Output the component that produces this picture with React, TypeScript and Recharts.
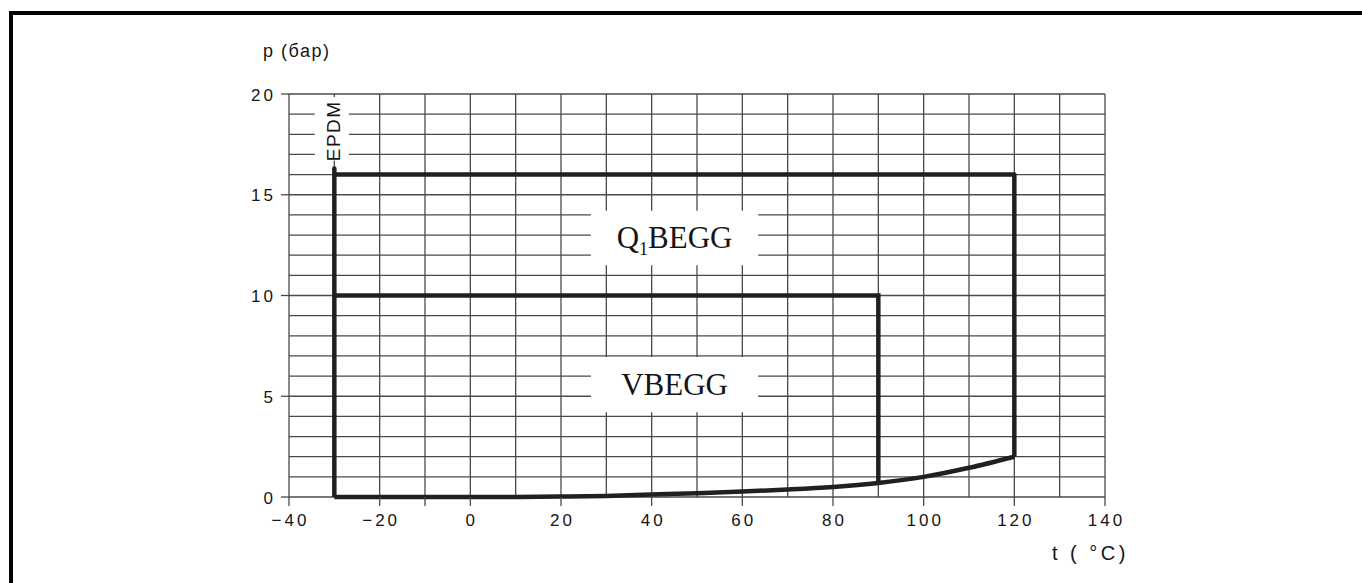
import React from "react";
import { LineChart, Line, XAxis, YAxis, CartesianGrid, ReferenceArea } from "recharts";

// axis ticks (grid every 10 °C and 1 bar, labels on the majors)
const xTicks = [-40, -30, -20, -10, 0, 10, 20, 30, 40, 50, 60, 70, 80, 90, 100, 110, 120, 130, 140];
const xLabeled = [-40, -20, 0, 20, 40, 60, 80, 100, 120, 140];
const xMarked = [-40, -20, -10, 0, 20, 40, 60, 80, 100, 120, 140];
const yTicks = [0, 1, 2, 3, 4, 5, 6, 7, 8, 9, 10, 11, 12, 13, 14, 15, 16, 17, 18, 19, 20];
const yLabeled = [0, 5, 10, 15, 20];

// lower boundary curve (steam pressure line)
const curveTemps = [-30, -20, -10, 0, 10, 20, 30, 40, 50, 60, 70, 80, 90, 100, 110, 120];
const curvePressures = [0, 0, 0, 0, 0.005, 0.02, 0.05, 0.12, 0.19, 0.27, 0.37, 0.5, 0.7, 1.0, 1.45, 2.0];

// Q1BEGG outline (EPDM line at -30 runs a little above 16 bar)
const q1Temps = [-30, -30, -30, 120, 120];
const q1Pressures = [0, 16.3, 16, 16, 2];

// VBEGG outline
const vTemps = [-30, 90, 90];
const vPressures = [10, 10, 0.7];

const curveData = curveTemps.map((t, i) => ({ t, p: curvePressures[i] }));
const q1Data = q1Temps.map((t, i) => ({ t, p: q1Pressures[i] }));
const vData = vTemps.map((t, i) => ({ t, p: vPressures[i] }));

const INK = "#231f20";
const GRID = "#4a4a4a";
const TEXT = "#151515";
const SANS = "'Liberation Sans', Arial, sans-serif";
const SERIF = "'Liberation Serif', 'Times New Roman', serif";

const XTick = (props: any) => {
  const { x, y, payload } = props;
  const v = payload.value;
  return (
    <g>
      {xMarked.includes(v) && <line x1={x} x2={x} y1={y} y2={y + 9} stroke={GRID} strokeWidth={1.3} />}
      {xLabeled.includes(v) && (
        <text x={x + 1.5} y={y + 29} textAnchor="middle" fontFamily={SANS} fontSize={17} letterSpacing={3} fill={TEXT}>
          {v < 0 ? `\u2212${Math.abs(v)}` : v}
        </text>
      )}
    </g>
  );
};

const YTick = (props: any) => {
  const { x, y, payload } = props;
  const v = payload.value;
  if (!yLabeled.includes(v)) return null;
  return (
    <g>
      <line x1={x - 8} x2={x} y1={y} y2={y} stroke={GRID} strokeWidth={1.3} />
      <text x={x - 13} y={y + 6.5} textAnchor="end" fontFamily={SANS} fontSize={17} letterSpacing={3} fill={TEXT}>
        {v}
      </text>
    </g>
  );
};

const Q1Label = (props: any) => {
  const { x, y, width, height } = props.viewBox;
  return (
    <text x={x + width / 2} y={y + height / 2 + 10} textAnchor="middle" fontFamily={SERIF} fontSize={31} fill={TEXT}>
      Q<tspan fontSize={18} dy={7}>1</tspan>
      <tspan dy={-7}>BEGG</tspan>
    </text>
  );
};

const VLabel = (props: any) => {
  const { x, y, width, height } = props.viewBox;
  return (
    <text x={x + width / 2} y={y + height / 2 + 10} textAnchor="middle" fontFamily={SERIF} fontSize={31} fill={TEXT}>
      VBEGG
    </text>
  );
};

const EpdmLabel = (props: any) => {
  const { x, y, width, height } = props.viewBox;
  const cx = x + width / 2 + 8;
  const cy = y + height / 2 + 2;
  return (
    <text
      x={cx}
      y={cy}
      textAnchor="middle"
      fontFamily={SANS}
      fontSize={19}
      letterSpacing={1.5}
      fill={TEXT}
      transform={`rotate(-90 ${cx} ${cy})`}
    >
      EPDM
    </text>
  );
};

export default function App() {
  return (
    <div style={{ position: "absolute", left: 0, top: 0, width: 1362, height: 583, background: "#fff", overflow: "hidden" }}>
      <div
        style={{
          position: "absolute",
          left: 9,
          top: 11,
          width: 1362,
          height: 583,
          borderTop: "4px solid #000",
          borderLeft: "4px solid #000",
        }}
      />
      <div style={{ position: "absolute", left: 0, top: 0 }}>
        <LineChart width={1362} height={583} margin={{ top: 94, right: 257, bottom: 56, left: 229 }}>
          <CartesianGrid stroke={GRID} strokeWidth={1.3} strokeDasharray="" />
          <XAxis
            dataKey="t"
            type="number"
            domain={[-40, 140]}
            ticks={xTicks}
            interval={0}
            tick={<XTick />}
            tickLine={false}
            axisLine={false}
            tickSize={0}
            tickMargin={0}
            height={30}
          />
          <YAxis
            dataKey="p"
            type="number"
            domain={[0, 20]}
            ticks={yTicks}
            interval={0}
            tick={<YTick />}
            tickLine={false}
            axisLine={false}
            tickSize={0}
            tickMargin={0}
            width={60}
          />
          <ReferenceArea x1={26.6} x2={63.5} y1={11.5} y2={14.2} fill="#fff" fillOpacity={1} stroke="none" label={<Q1Label />} />
          <ReferenceArea x1={26.6} x2={63.5} y1={4.2} y2={6.95} fill="#fff" fillOpacity={1} stroke="none" label={<VLabel />} />
          <ReferenceArea x1={-34.3} x2={-26.8} y1={16.7} y2={19.85} fill="#fff" fillOpacity={1} stroke="none" label={<EpdmLabel />} />
          <Line data={curveData} dataKey="p" type="monotone" stroke={INK} strokeWidth={4.5} dot={false} activeDot={false} isAnimationActive={false} />
          <Line data={q1Data} dataKey="p" type="linear" stroke={INK} strokeWidth={4.5} strokeLinejoin="round" dot={false} activeDot={false} isAnimationActive={false} />
          <Line data={vData} dataKey="p" type="linear" stroke={INK} strokeWidth={4.5} dot={false} activeDot={false} isAnimationActive={false} />
        </LineChart>
      </div>
      <svg width={1362} height={583} style={{ position: "absolute", left: 0, top: 0, pointerEvents: "none" }}>
        <text x={263} y={57} fontFamily={SANS} fontSize={18} letterSpacing={1.5} fill={TEXT}>
          p (бар)
        </text>
        <text x={1052} y={560} fontFamily={SANS} fontSize={20} letterSpacing={3.5} fill={TEXT}>
          t ( °C)
        </text>
      </svg>
    </div>
  );
}
